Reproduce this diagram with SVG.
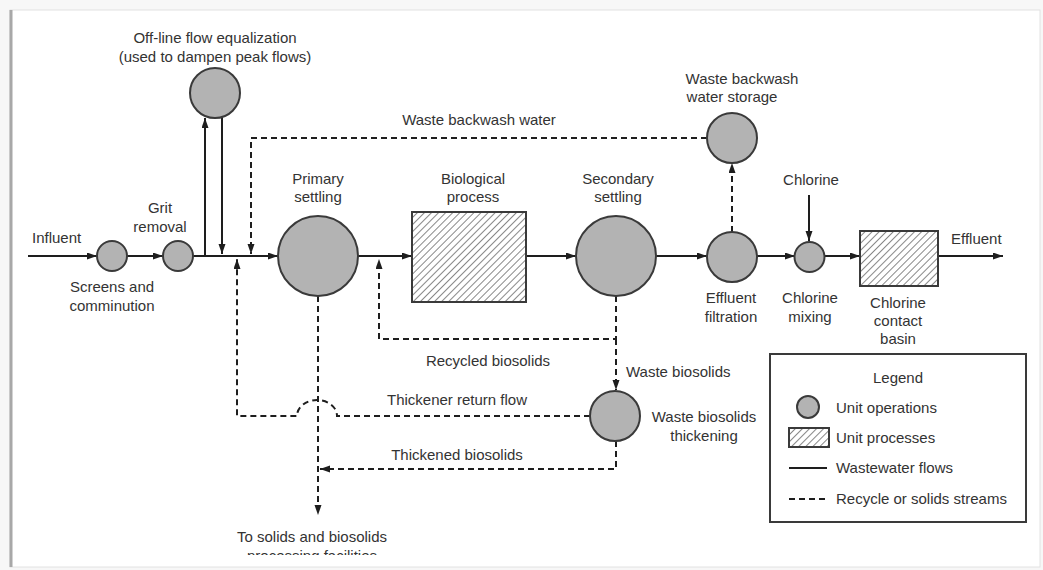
<svg xmlns="http://www.w3.org/2000/svg" width="1043" height="570" viewBox="0 0 1043 570">
<style>
text{font-family:"Liberation Sans",Arial,sans-serif;font-size:15px;fill:#333}
.m{text-anchor:middle}
.op{fill:#b3b3b3;stroke:#3a3a3a;stroke-width:2}
.pr{fill:url(#hatch);stroke:#3a3a3a;stroke-width:2}
.s{fill:none;stroke:#1e1e1e;stroke-width:2}
.d{fill:none;stroke:#1e1e1e;stroke-width:2;stroke-dasharray:6 4}
.a{marker-end:url(#arr)}
</style>
<defs>
<marker id="arr" markerUnits="userSpaceOnUse" markerWidth="11" markerHeight="8" refX="10" refY="3.5" orient="auto">
<path d="M0,0 L10,3.5 L0,7 z" fill="#1e1e1e"/>
</marker>
<pattern id="hatch" patternUnits="userSpaceOnUse" width="5" height="5" patternTransform="rotate(45)">
<rect width="5" height="5" fill="#fff"/>
<line x1="0" y1="0" x2="0" y2="5" stroke="#555" stroke-width="1.4"/>
</pattern>
<clipPath id="pg"><rect x="0" y="0" width="1043" height="555"/></clipPath>
</defs>
<rect width="1043" height="570" fill="#f7f7f7"/>
<rect x="10" y="10" width="1030" height="557" fill="#fff" stroke="#e2e2e2" stroke-width="1"/>
<line x1="11" y1="10" x2="11" y2="567" stroke="#a8a8a8" stroke-width="3"/>

<g id="connectors">
<path class="s a" d="M28,256 H97"/>
<path class="s a" d="M127,256 H163"/>
<path class="s a" d="M193,256 H278"/>
<path class="s a" d="M205,256 V118"/>
<path class="s a" d="M222,117 V254"/>
<path class="s a" d="M358,256 H412"/>
<path class="s a" d="M526,256 H576"/>
<path class="s a" d="M656,256 H707"/>
<path class="s a" d="M757,256 H795"/>
<path class="s a" d="M824,256 H860"/>
<path class="s a" d="M938,256 H1003"/>
<path class="s a" d="M809,195 V241"/>
<path class="d a" d="M707,138 H251 V254"/>
<path class="d a" d="M732,232 V163"/>
<path class="d a" d="M616,296 V339 H379 V259"/>
<path class="d a" d="M616,339 V390"/>
<path class="d a" d="M590,416 H337 A20,16 0 0 0 297,416 H237 V259"/>
<path class="d a" d="M616,441 V469 H320"/>
<path class="d a" d="M318,296 V515"/>
</g>

<g id="equalization">
<circle class="op" cx="215" cy="93" r="25"/>
<text class="m" x="215" y="43">Off-line flow equalization</text>
<text class="m" x="215" y="62">(used to dampen peak flows)</text>
</g>
<g id="influent"><text x="32" y="243">Influent</text></g>
<g id="screens">
<circle class="op" cx="112" cy="256" r="15"/>
<text class="m" x="112" y="292">Screens and</text>
<text class="m" x="112" y="311">comminution</text>
</g>
<g id="grit">
<circle class="op" cx="178" cy="256" r="15"/>
<text class="m" x="160" y="213">Grit</text>
<text class="m" x="160" y="232">removal</text>
</g>
<g id="primary">
<circle class="op" cx="318" cy="256" r="40"/>
<text class="m" x="318" y="184">Primary</text>
<text class="m" x="318" y="202">settling</text>
</g>
<g id="biological">
<rect class="pr" x="412" y="212" width="114" height="90"/>
<text class="m" x="473" y="184">Biological</text>
<text class="m" x="473" y="202">process</text>
</g>
<g id="secondary">
<circle class="op" cx="616" cy="256" r="40"/>
<text class="m" x="618" y="184">Secondary</text>
<text class="m" x="618" y="202">settling</text>
</g>
<g id="storage">
<circle class="op" cx="732" cy="138" r="25"/>
<text class="m" x="742" y="84">Waste backwash</text>
<text class="m" x="732" y="102">water storage</text>
</g>
<g id="filtration">
<circle class="op" cx="732" cy="257" r="25"/>
<text class="m" x="731" y="303">Effluent</text>
<text class="m" x="731" y="322">filtration</text>
</g>
<g id="chlorine-in"><text class="m" x="811" y="185">Chlorine</text></g>
<g id="mixing">
<circle class="op" cx="809.5" cy="257" r="15"/>
<text class="m" x="810" y="303">Chlorine</text>
<text class="m" x="810" y="322">mixing</text>
</g>
<g id="contact">
<rect class="pr" x="860" y="231" width="78" height="55"/>
<text class="m" x="898" y="308">Chlorine</text>
<text class="m" x="898" y="326">contact</text>
<text class="m" x="898" y="344">basin</text>
</g>
<g id="effluent"><text x="951" y="244">Effluent</text></g>
<g id="thickener">
<circle class="op" cx="615" cy="416" r="25"/>
<text class="m" x="704" y="422">Waste biosolids</text>
<text class="m" x="704" y="441">thickening</text>
</g>
<g id="labels">
<text class="m" x="479" y="125">Waste backwash water</text>
<text class="m" x="488" y="366">Recycled biosolids</text>
<text x="626" y="377">Waste biosolids</text>
<text class="m" x="457" y="405">Thickener return flow</text>
<text class="m" x="457" y="460">Thickened biosolids</text>
</g>
<g id="solids" clip-path="url(#pg)">
<text class="m" x="312" y="542">To solids and biosolids</text>
<text class="m" x="312" y="561">processing facilities</text>
</g>
<g id="legend">
<rect x="770" y="354" width="256" height="168" fill="#fff" stroke="#3a3a3a" stroke-width="2"/>
<text class="m" x="898" y="383">Legend</text>
<circle class="op" cx="808" cy="407" r="11"/>
<text x="836" y="413">Unit operations</text>
<rect class="pr" x="789" y="428" width="40" height="19"/>
<text x="836" y="443">Unit processes</text>
<line class="s" x1="789" y1="468" x2="827" y2="468"/>
<text x="836" y="473">Wastewater flows</text>
<line class="d" x1="789" y1="499" x2="827" y2="499" stroke-dasharray="6 3.5"/>
<text x="836" y="504">Recycle or solids streams</text>
</g>
</svg>
